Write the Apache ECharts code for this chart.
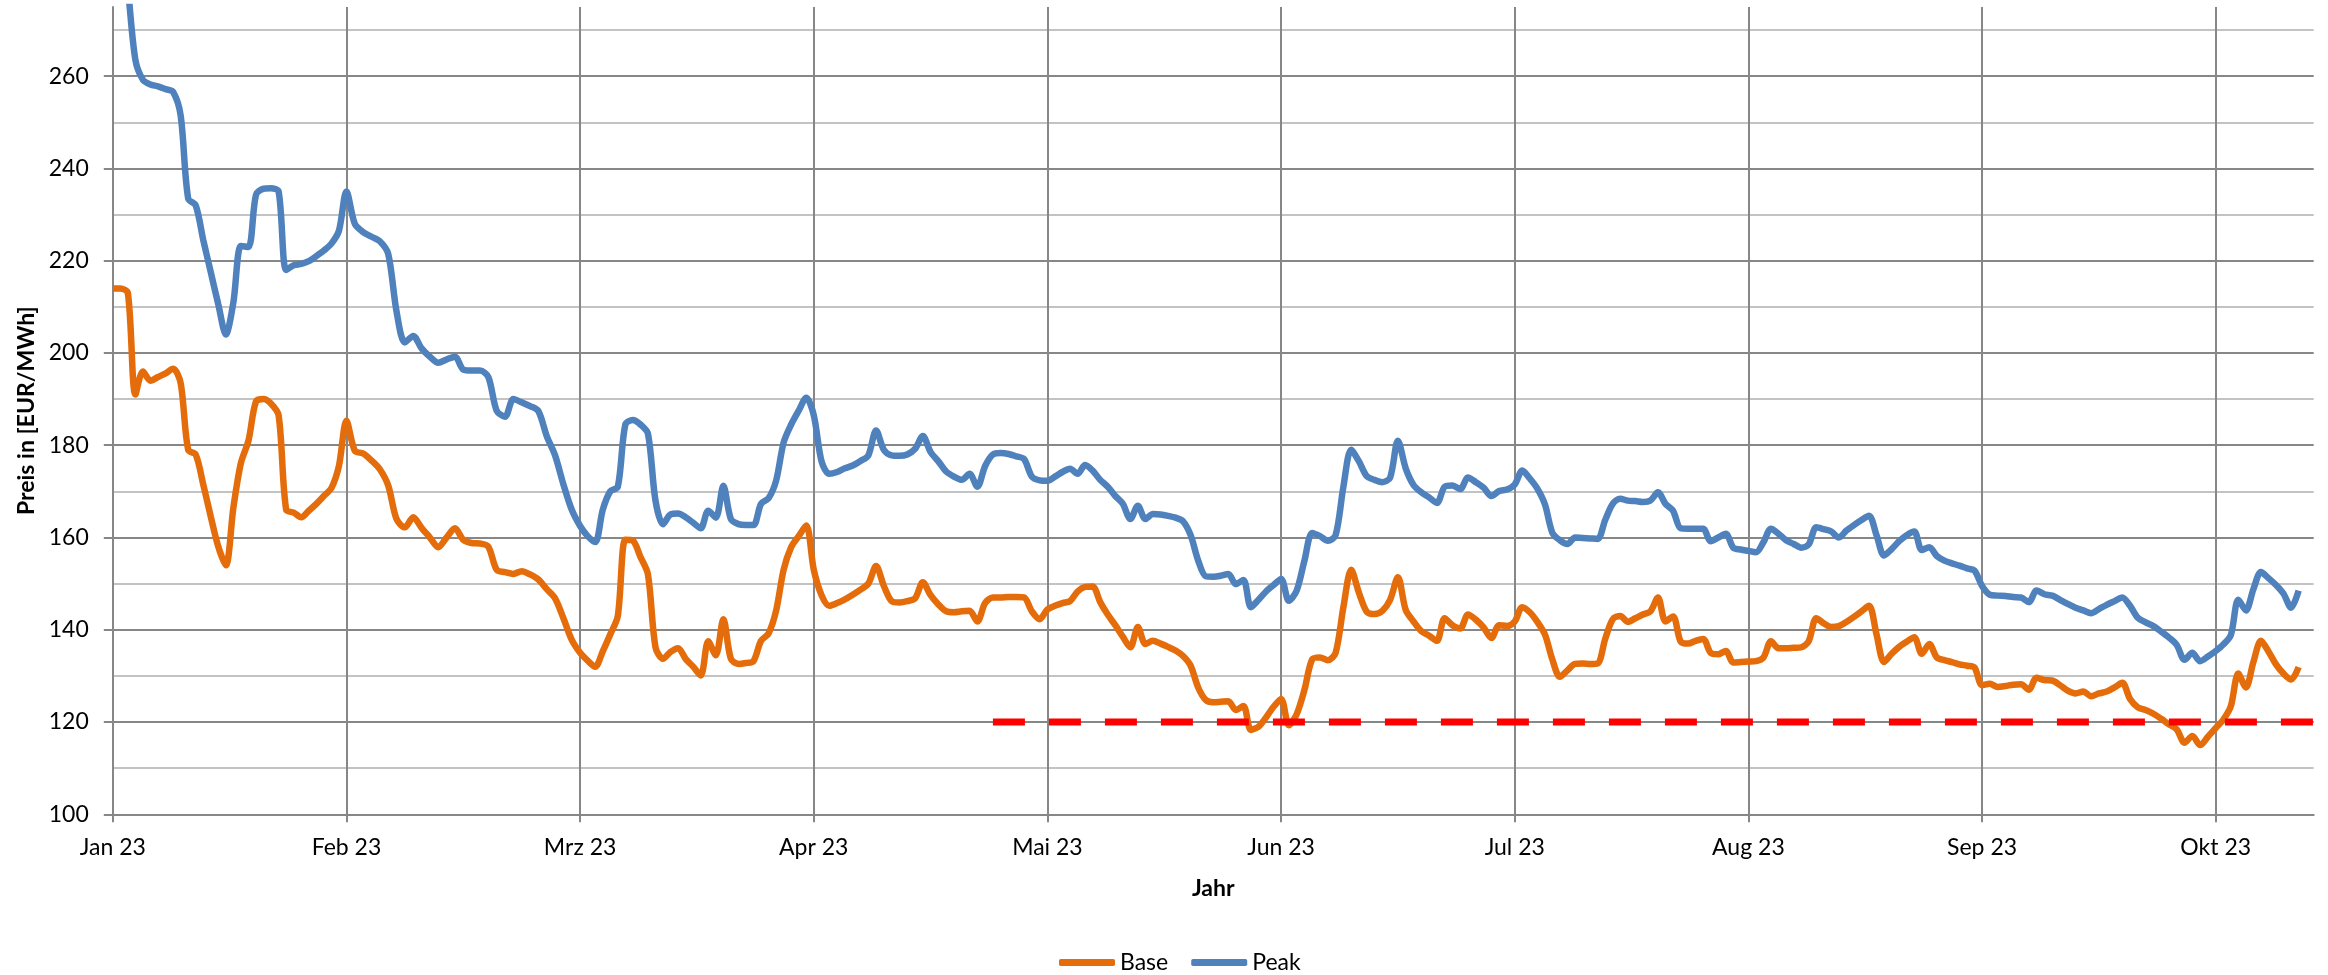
<!DOCTYPE html>
<html>
<head>
<meta charset="utf-8">
<script src="https://cdn.jsdelivr.net/npm/echarts@6/dist/echarts.min.js"></script>
<style>
  html, body { margin: 0; padding: 0; background: #fff; }
  #chart { width: 2328px; height: 975px; }
</style>
</head>
<body>
<div id="chart"></div>
<script>
// ---------------- data ----------------
const monthLabels = ['Jan 23', 'Feb 23', 'Mrz 23', 'Apr 23', 'Mai 23', 'Jun 23', 'Jul 23', 'Aug 23', 'Sep 23', 'Okt 23'];
const yTickLabels = [100, 120, 140, 160, 180, 200, 220, 240, 260];
const firstDate = '2023-01-01';   // one value per calendar day from here
const axisEndDate = '2023-10-14';

const baseValues = [
  // Jan
  214, 214, 213, 191, 196, 194, 194.8, 195.6, 196.6, 193.5, 179, 178, 171.5, 164.5, 158, 154, 166.5, 176.2, 181, 189.5, 190, 189, 186.5, 166, 165.4, 164.4, 165.8, 167.3, 169, 170.7, 175.5,
  // Feb
  185.3, 178.8, 178.2, 176.7, 174.8, 171.3, 164, 162.2, 164.4, 162.1, 160, 157.9, 160, 162, 159.5, 158.8, 158.7, 158, 153, 152.5, 152.1, 152.7, 152, 150.9, 148.8, 146.8, 142.5, 137.8,
  // Mrz
  135, 133.3, 132, 135.3, 139, 143, 159.5, 159.3, 155.8, 152, 136.2, 133.7, 135.2, 136, 133.7, 132, 130.1, 137.5, 134.5, 142.3, 133.7, 132.6, 132.8, 133.2, 137.6, 139.2, 144.1, 153, 157.9, 160.3, 162.6,
  // Apr
  153, 147.5, 145.2, 145.8, 146.6, 147.6, 148.7, 150, 153.8, 149.5, 146.2, 145.9, 146.2, 146.8, 150.3, 147.5, 145.5, 144, 143.8, 144, 144.1, 141.8, 145.8, 147, 147, 147.1, 147.1, 147, 144, 142.3,
  // Mai
  144.4, 145.2, 145.8, 146.2, 148.3, 149.3, 149.4, 146, 143.3, 141, 138.5, 136.2, 140.6, 136.9, 137.6, 137, 136.3, 135.5, 134.3, 132.2, 127.5, 124.8, 124.3, 124.4, 124.5, 122.6, 123.5, 118.3, 119, 121, 123.3,
  // Jun
  125, 119.3, 121.7, 127, 133.6, 134, 133.4, 135, 144.9, 153, 148, 143.9, 143.4, 144.1, 146.5, 151.4, 144.3, 141.8, 139.7, 138.7, 137.6, 142.5, 141, 140.3, 143.3, 142.2, 140.5, 138.2, 141, 140.8,
  // Jul
  141.8, 144.9, 143.8, 141.7, 139, 133.5, 129.8, 131.2, 132.6, 132.7, 132.6, 132.7, 138, 142.3, 143, 141.7, 142.5, 143.3, 144, 147, 141.8, 142.9, 137.5, 137, 137.6, 138, 135, 134.7, 135.4, 132.9, 133,
  // Aug
  133.1, 133.2, 134, 137.5, 136, 136, 136.1, 136.2, 137.5, 142.5, 141.4, 140.6, 140.8, 141.7, 142.8, 144, 145.2, 139, 133, 134.8, 136.3, 137.4, 138.4, 134.8, 136.9, 134, 133.4, 133, 132.5, 132.2, 131.8,
  // Sep
  128, 128.3, 127.6, 127.8, 128.1, 128.2, 127, 129.6, 129.1, 129, 128, 126.8, 126.2, 126.6, 125.6, 126.2, 126.6, 127.5, 128.5, 125, 123.2, 122.6, 121.8, 120.7, 119.5, 118.4, 115.5, 117, 115, 116.8,
  // Okt
  118.7, 120.5, 123.4, 130.5, 127.5, 133, 137.6, 135.3, 132.5, 130.5, 129.2, 131.9
];

const peakValues = [
  // Jan
  305, 292, 279, 263.5, 259.2, 258.2, 257.8, 257.2, 256.6, 251.5, 233.5, 232, 224.5, 217.5, 210.5, 204, 211, 223.2, 223, 234.3, 235.6, 235.7, 235, 218, 219, 219.3, 219.9, 221, 222.2, 223.7, 226.5,
  // Feb
  235, 228, 226.2, 225.2, 224.2, 221.5, 209, 202.3, 203.7, 201, 199.2, 197.9, 198.6, 199.2, 196.4, 196.2, 196.2, 194.8, 187.5, 186.2, 190, 189.3, 188.5, 187.4, 182, 177.8, 171.5, 166,
  // Mrz
  162.5, 160.3, 159, 166, 170, 171, 184.5, 185.5, 184.5, 182.5, 168, 162.9, 165, 165.2, 164.4, 163.2, 162, 165.8, 164.3, 171.2, 164, 162.9, 162.7, 162.7, 167.3, 168.5, 172.3, 180.6, 184.5, 187.5, 190.3,
  // Apr
  186.5, 176.5, 173.8, 174.2, 175, 175.6, 176.6, 177.8, 183.2, 179, 177.8, 177.7, 178, 179.2, 182, 178.5, 176.5, 174.3, 173.2, 172.5, 173.8, 171, 175.5, 178, 178.3, 178.1, 177.6, 177, 173.2, 172.4,
  // Mai
  172.3, 173.2, 174.2, 174.9, 173.8, 175.7, 174.5, 172.5, 171, 169, 167.3, 164, 166.9, 164, 165.1, 165, 164.7, 164.3, 163.5, 160.5, 155, 151.6, 151.5, 151.7, 152.1, 149.9, 150.8, 144.9, 146.5, 148.3, 149.7,
  // Jun
  151, 146.3, 148.5, 155, 161, 160.3, 159.3, 160.5, 171, 179, 176.5, 173.3, 172.5, 172, 173, 181, 175, 171.4, 169.8, 168.7, 167.5, 171, 171.3, 170.5, 173, 172, 170.8, 169, 170.1, 170.4,
  // Jul
  171.5, 174.5, 172.8, 170.6, 167.2, 161, 159.4, 158.6, 160, 159.9, 159.8, 159.7, 163.8, 167.3, 168.4, 168, 167.9, 167.7, 168, 169.8, 167.3, 165.8, 162, 161.9, 161.9, 161.9, 159.2, 160, 160.8, 157.8, 157.4,
  // Aug
  157.1, 156.8, 159, 161.9, 160.8, 159.4, 158.6, 157.8, 158.5, 162.2, 161.8, 161.3, 160, 161.5, 162.7, 163.8, 164.7, 160.5, 156.1, 157.5, 159.2, 160.5, 161.3, 157.3, 157.9, 156, 155, 154.4, 153.9, 153.3, 152.8,
  // Sep
  149.5, 147.6, 147.4, 147.3, 147.1, 147, 146, 148.5, 147.7, 147.4, 146.5, 145.6, 144.8, 144.2, 143.6, 144.5, 145.4, 146.2, 147, 145.2, 142.6, 141.6, 140.8, 139.6, 138.3, 136.7, 133.5, 135, 133.2, 134.2,
  // Okt
  135.4, 136.8, 138.8, 146.5, 144.2, 148.8, 152.5, 151.2, 149.7, 147.8, 144.8, 148.5
];

const targetDates = ['2023-04-24', '2023-10-14'];
const targetValues = [120, 120];

// ---------------- helpers ----------------
// Equal-width months on the axis: position = month index + fraction of the month
function monthPos(dateStr) {
  const [y, m, d] = dateStr.split('-').map(Number);
  const dim = new Date(Date.UTC(y, m, 0)).getUTCDate();
  return (m - 1) + (d - 1) / dim;
}
function dayList(start, n) {
  const out = [];
  const t0 = Date.parse(start + 'T00:00:00Z');
  for (let i = 0; i < n; i++) {
    out.push(new Date(t0 + i * 86400000).toISOString().slice(0, 10));
  }
  return out;
}
const dates = dayList(firstDate, baseValues.length);
const baseData = dates.map((d, i) => [monthPos(d), baseValues[i]]);
const peakData = dates.map((d, i) => [monthPos(d), peakValues[i]]);
const targetData = targetDates.map((d, i) => [monthPos(d), targetValues[i]]);
const xMax = monthPos(axisEndDate);
const monthTicks = monthLabels.map((_, i) => i);

// ---------------- chart ----------------
const FONT = 'Lato';
const GRID = '#878787';
const MINOR = '#c3c3c3';
const LW = 6.5;
const chart = echarts.init(document.getElementById('chart'), null, { renderer: 'canvas' });

chart.setOption({
  animation: false,
  backgroundColor: '#ffffff',
  textStyle: { fontFamily: FONT, color: '#000' },
  grid: { left: 112.8, right: 14.3, top: 7, bottom: 160.7, outerBoundsMode: 'none', containLabel: false },
  legend: {
    data: [
      { name: 'Base', icon: 'roundRect', itemStyle: { color: '#E46C0A' } },
      { name: 'Peak', icon: 'roundRect', itemStyle: { color: '#4F81BD' } }
    ],
    left: 1059, top: 951, padding: 0,
    itemWidth: 56, itemHeight: 7, itemGap: 23,
    textStyle: { fontFamily: FONT, fontSize: 23, color: '#000' }
  },
  xAxis: {
    type: 'value', min: 0, max: xMax, interval: 1,
    name: 'Jahr', nameLocation: 'middle', nameGap: 63,
    nameTextStyle: { fontFamily: FONT, fontSize: 23, fontWeight: 'bold', color: '#000' },
    axisLine: { show: true, onZero: false, lineStyle: { color: GRID, width: 2 } },
    axisTick: { show: true, length: 8, customValues: monthTicks, lineStyle: { color: GRID, width: 2 } },
    axisLabel: {
      customValues: monthTicks, margin: 22, fontFamily: FONT, fontSize: 23, color: '#000',
      formatter: v => monthLabels[Math.round(v)] || ''
    },
    splitLine: { show: true, lineStyle: { color: GRID, width: 2 } }
  },
  yAxis: [
    {
      type: 'value', position: 'left', min: 100, max: 275, interval: 10,
      axisLine: { show: true, lineStyle: { color: GRID, width: 2 } },
      axisTick: { show: false },
      axisLabel: { show: false },
      splitLine: { show: true, showMaxLine: false, lineStyle: { color: [GRID, MINOR], width: 2 } }
    },
    {
      type: 'value', position: 'left', min: 100, max: 275, interval: 20,
      name: 'Preis in [EUR/MWh]', nameLocation: 'middle', nameGap: 74,
      nameTextStyle: { fontFamily: FONT, fontSize: 23, fontWeight: 'bold', color: '#000' },
      axisLine: { show: false },
      axisTick: { show: true, length: 9, customValues: yTickLabels, lineStyle: { color: GRID, width: 2 } },
      axisLabel: { customValues: yTickLabels, margin: 24, fontFamily: FONT, fontSize: 23, color: '#000' },
      splitLine: { show: false }
    }
  ],
  series: [
    {
      name: 'Base', type: 'line', data: baseData, yAxisIndex: 0,
      symbol: 'none', showSymbol: false, smooth: 0.3, clip: true,
      lineStyle: { color: '#E46C0A', width: LW }, itemStyle: { color: '#E46C0A' }, z: 3
    },
    {
      name: 'Peak', type: 'line', data: peakData, yAxisIndex: 0,
      symbol: 'none', showSymbol: false, smooth: 0.3, clip: true,
      lineStyle: { color: '#4F81BD', width: LW }, itemStyle: { color: '#4F81BD' }, z: 3
    },
    {
      name: 'Ziel', type: 'line', data: targetData, yAxisIndex: 0,
      symbol: 'none', showSymbol: false, clip: true,
      lineStyle: { color: '#FF0000', width: 7, type: [32, 24], cap: 'butt' }, z: 4
    }
  ]
});
</script>
</body>
</html>
